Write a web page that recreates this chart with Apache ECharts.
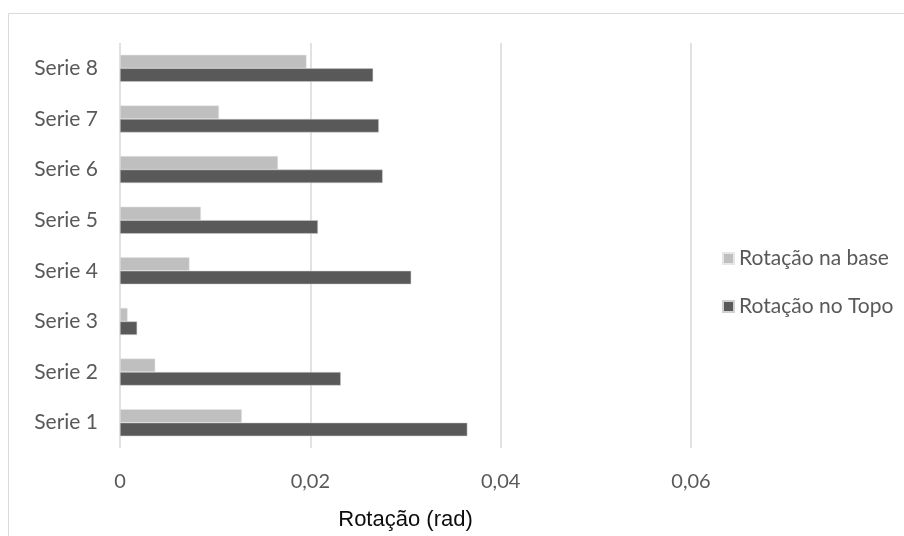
<!DOCTYPE html>
<html>
<head>
<meta charset="utf-8">
<script src="https://cdn.jsdelivr.net/npm/echarts@6/dist/echarts.min.js"></script>
<style>
html,body{margin:0;padding:0;background:#fff;}
#c{width:904px;height:536px;}
</style>
</head>
<body>
<div id="c"></div>
<script>
const categories = ['Serie 1','Serie 2','Serie 3','Serie 4','Serie 5','Serie 6','Serie 7','Serie 8'];
const seriesNames = ['Rotação na base','Rotação no Topo'];
const rotacaoBase = [0.0128, 0.0037, 0.0008, 0.0073, 0.0085, 0.0166, 0.0104, 0.0196];
const rotacaoTopo = [0.0365, 0.0232, 0.0018, 0.0306, 0.0208, 0.0276, 0.0272, 0.0266];
const xTicks = [0, 0.02, 0.04, 0.06];

const FONT = 'Lato';
const chart = echarts.init(document.getElementById('c'), null, {renderer:'canvas'});
chart.setOption({
  backgroundColor:'#ffffff',
  animation:false,
  graphic:[{type:'rect', shape:{x:8.5,y:13.5,width:1200,height:1000}, style:{fill:'none',stroke:'#d9d9d9',lineWidth:1}, silent:true, z:-1}],
  grid:{left:120, top:43, width:571, height:410, containLabel:false},
  legend:{
    data:seriesNames, orient:'vertical', left:717, top:243,
    itemWidth:11, itemHeight:11, itemGap:27, icon:'rect',
    textStyle:{fontFamily:FONT, fontSize:21, color:'#595959', padding:[0,0,0,0]}
  },
  xAxis:{
    type:'value', min:0, max:0.06, interval:0.02,
    name:'Rotação (rad)', nameLocation:'middle', nameGap:61,
    nameTextStyle:{fontFamily:'Liberation Sans', fontSize:22, color:'#0d0d0d'},
    axisLine:{show:false}, axisTick:{show:false},
    axisLabel:{margin:24, fontFamily:FONT, fontSize:20, color:'#595959',
      formatter:v => xTicks.includes(+v.toFixed(2)) ? String(+v.toFixed(2)).replace('.',',') : ''},
    splitLine:{show:true, lineStyle:{color:'#d9d9d9', width:1.5}}
  },
  yAxis:{
    type:'category', data:categories,
    axisLine:{show:false}, axisTick:{show:false},
    axisLabel:{margin:22, fontFamily:FONT, fontSize:21, color:'#595959'},
    splitLine:{show:false}
  },
  series:[
    {name:seriesNames[0], type:'bar', data:rotacaoBase, barWidth:13.5, barGap:'0%',
     itemStyle:{color:'#bfbfbf', borderColor:'#e6e6e6', borderWidth:0.5}},
    {name:seriesNames[1], type:'bar', data:rotacaoTopo, barWidth:13.5, barGap:'0%',
     itemStyle:{color:'#595959', borderColor:'#d0d0d0', borderWidth:0.5}}
  ]
});
</script>
</body>
</html>
